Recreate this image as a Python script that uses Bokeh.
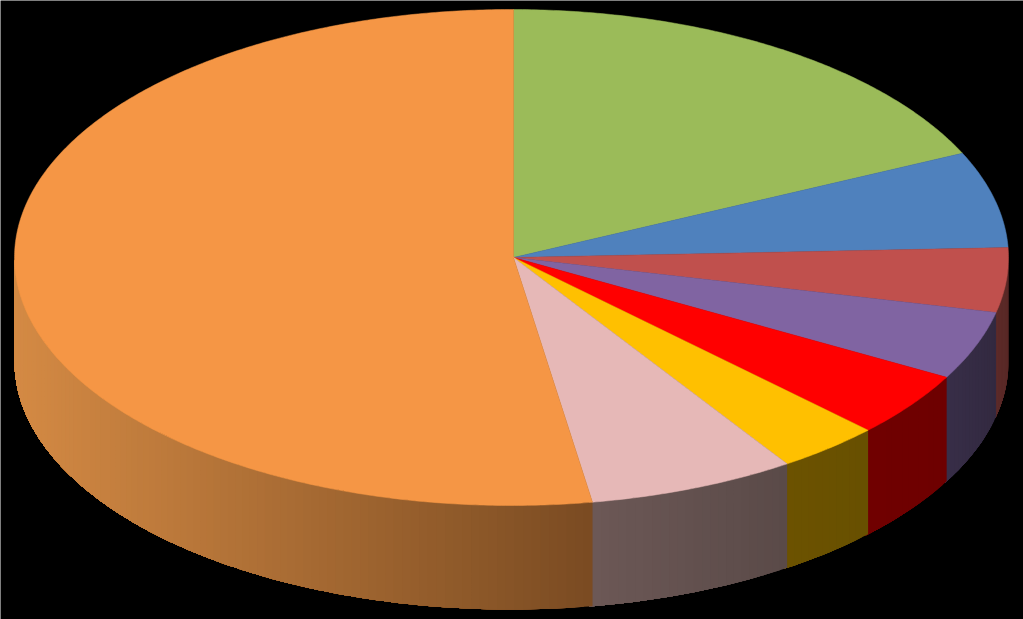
import numpy as np
from bokeh.plotting import figure
from bokeh.models import Range1d
from bokeh.embed import file_html
from bokeh.resources import INLINE

# Slice shares (percent), clockwise from 12 o'clock
slices = ["Green", "Blue", "Red", "Purple", "Bright red", "Amber", "Pink", "Orange"]
values = [18.03, 6.27, 4.2, 4.46, 4.24, 3.38, 6.75, 52.67]
top_colors = ["#9BBB59", "#4F81BD", "#C0504D", "#8064A2", "#FF0000", "#FFC000", "#E6B8B7", "#F59645"]
side_start = [(0, 0, 0), (0, 0, 0), (92, 42, 40), (56, 46, 72), (112, 0, 0), (108, 82, 0), (108, 88, 86), (212, 138, 68)]
side_end = [(0, 0, 0), (0, 0, 0), (88, 40, 38), (50, 41, 64), (110, 0, 0), (104, 80, 0), (90, 74, 72), (122, 75, 34)]

W, H = 1023, 619
CX, CY, RX, RY, DEPTH = 511.0, 257.0, 497.0, 248.0, 104.0
APEX = (513.0, 257.0)
START = np.radians(0.23)

p = figure(width=W, height=H, x_range=Range1d(0, W), y_range=Range1d(H, 0),
           output_backend="svg", toolbar_location=None, min_border=0,
           background_fill_color="black", border_fill_color="black", outline_line_color=None)
p.axis.visible = False
p.grid.visible = False

edges = START + np.concatenate([[0], np.cumsum(values)]) / np.sum(values) * 2 * np.pi


def rim(a):
    return CX + RX * np.sin(a), CY - RY * np.cos(a)


# Side wall: overlapping bands, each reaching to the end of its slice, so that
# the shade runs across the slice with no gaps between the bands
xs, ys, cols = [], [], []
for i in range(len(values)):
    a0, a1 = max(edges[i], np.pi / 2), min(edges[i + 1], 3 * np.pi / 2)
    if a1 <= a0:
        continue
    n = max(2, int(np.degrees(a1 - a0) / 1.0))
    cuts = np.linspace(a0, a1, n + 1)
    span = abs(rim(a1)[0] - rim(a0)[0]) or 1.0
    xleft = min(rim(a0)[0], rim(a1)[0])
    lap = 0.0 if i == len(values) - 1 else np.radians(0.4)
    for k in range(n):
        arc = np.append(cuts[k:], a1 + lap)
        rx, ry = rim(arc)
        t = (0.5 * (rim(cuts[k])[0] + rim(cuts[k + 1])[0]) - xleft) / span
        c = [int(round(s + (e - s) * t)) for s, e in zip(side_start[i], side_end[i])]
        xs.append(list(rx) + list(rx[::-1]))
        ys.append(list(ry) + list(ry[::-1] + DEPTH))
        cols.append("#%02x%02x%02x" % tuple(c))
p.patches(xs, ys, fill_color=cols, line_color=None)

# Top face
xs, ys = [], []
for i in range(len(values)):
    a = np.linspace(edges[i], edges[i + 1], max(3, int(np.degrees(edges[i + 1] - edges[i])) * 2))
    rx, ry = rim(a)
    xs.append([APEX[0], *rx])
    ys.append([APEX[1], *ry])
p.patches(xs, ys, fill_color=top_colors, line_color=top_colors, line_width=0.5)

html = file_html(p, INLINE)
html = html.replace("<body>", '<body style="margin:0;background:#000;overflow:hidden">', 1)
open("out.html", "w").write(html)
